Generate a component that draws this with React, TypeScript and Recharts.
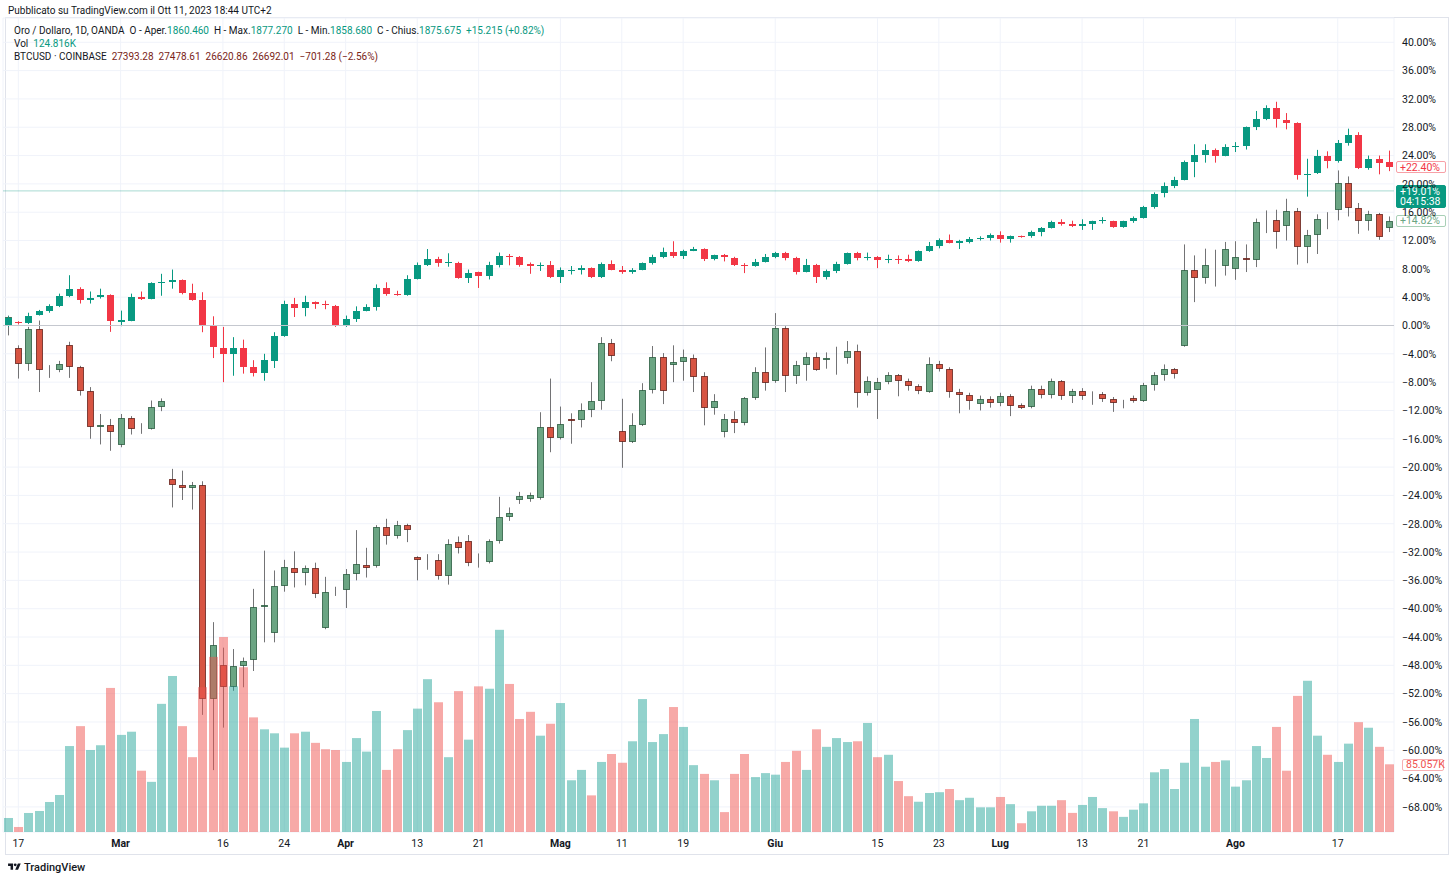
import React from 'react';
import { ComposedChart, Bar, XAxis, YAxis, CartesianGrid, ReferenceLine } from 'recharts';

const FONT = 'Roboto, "Liberation Sans", Arial, sans-serif';

// ---- Time axis (trading-day index -> label) ----
const tickIdx = [1, 11, 21, 27, 33, 40, 46, 54, 60, 66, 75, 85, 91, 97, 105, 111, 120, 130];
const tickLabels = ['17', 'Mar', '16', '24', 'Apr', '13', '21', 'Mag', '11', '19', 'Giu', '15', '23', 'Lug', '13', '21', 'Ago', '17'];
const monthLabels = ['Mar', 'Apr', 'Mag', 'Giu', 'Lug', 'Ago'];

// ---- Percent scale ticks ----
const pctTicks = [-68, -64, -60, -56, -52, -48, -44, -40, -36, -32, -28, -24, -20, -16, -12, -8, -4, 0, 4, 8, 12, 16, 20, 24, 28, 32, 36, 40];

// ---- Oro / Dollaro (percent change) ----
const goldOpen = [
  0.1, 0.45, 0.3, 1.5, 2.1, 2.7, 4.2, 5.1, 3.6, 4.0,
  4.3, 0.5, 0.7, 4.0, 3.8, 6.0, 6.1, 6.45, 4.6, 3.6,
  -0.1, -3.15, -4.05, -3.15, -5.9, -6.75, -5.0, -1.55, 3.1, 2.5,
  3.3, 3.1, 2.8, -0.1, 0.85, 2.1, 2.6, 5.3, 4.5, 4.3,
  6.6, 8.6, 9.4, 8.8, 8.85, 6.7, 7.5, 7.0, 8.6, 9.85,
  9.65, 8.7, 8.4, 8.6, 6.8, 7.85, 7.9, 8.1, 6.8, 8.7,
  7.9, 7.55, 7.9, 8.8, 9.65, 10.4, 9.8, 10.55, 10.8, 9.4,
  9.9, 9.55, 8.55, 8.35, 9.0, 9.65, 10.3, 9.5, 7.55, 8.6,
  6.8, 7.65, 8.7, 10.2, 9.5, 9.65, 9.35, 9.45, 9.4, 9.1,
  10.5, 11.2, 12.1, 11.65, 11.8, 12.25, 12.4, 12.85, 12.25, 12.6,
  12.6, 13.15, 13.75, 14.65, 14.4, 14.0, 14.3, 14.75, 14.75, 13.9,
  14.7, 15.15, 16.7, 18.7, 19.65, 20.6, 23.1, 24.1, 24.85, 24.0,
  25.2, 25.3, 28.0, 29.2, 30.75, 29.0, 28.6, 21.25, 21.55, 23.9,
  23.3, 25.8, 26.95, 22.3, 23.45, 23.1,
];
const goldHigh = [
  1.3, 0.6, 1.8, 2.2, 3.0, 4.5, 7.1, 5.4, 4.8, 5.2,
  4.4, 2.1, 4.5, 4.8, 6.1, 7.3, 7.9, 6.5, 5.9, 4.7,
  1.3, -0.2, -1.65, -2.0, -4.9, -4.0, -0.95, 3.5, 3.9, 4.2,
  3.4, 3.5, 2.9, 1.4, 2.7, 3.0, 5.8, 6.1, 4.9, 7.1,
  8.9, 10.8, 9.7, 10.2, 9.0, 7.9, 7.6, 9.0, 10.3, 10.1,
  9.8, 8.9, 8.9, 9.1, 8.2, 8.4, 8.5, 8.2, 8.9, 9.2,
  8.4, 8.1, 8.9, 10.0, 11.0, 11.9, 10.7, 11.1, 10.9, 10.0,
  10.1, 9.7, 8.8, 9.4, 10.1, 10.4, 10.4, 9.7, 9.4, 8.7,
  7.9, 9.0, 10.3, 10.4, 10.3, 9.8, 10.0, 9.9, 10.0, 10.6,
  11.8, 12.3, 12.85, 12.1, 12.5, 12.6, 13.0, 13.3, 12.7, 12.7,
  13.4, 13.9, 14.8, 15.0, 14.8, 15.0, 14.8, 15.3, 14.8, 14.8,
  15.4, 16.9, 18.8, 20.2, 21.0, 23.3, 25.6, 25.6, 25.0, 25.6,
  25.9, 28.1, 30.3, 31.1, 31.6, 30.0, 28.7, 23.55, 24.8, 24.6,
  26.2, 27.8, 27.3, 24.0, 24.0, 24.7,
];
const goldLow = [
  -0.2, 0.15, 0.2, 1.4, 1.8, 2.6, 4.0, 3.1, 3.1, 3.8,
  -0.9, -0.1, 0.6, 3.6, 3.7, 4.2, 5.2, 4.4, 3.5, -0.95,
  -4.6, -8.0, -7.1, -6.8, -7.2, -7.8, -6.0, -1.6, 1.2, 1.3,
  2.35, 2.3, -0.2, -0.2, 0.5, 2.0, 2.1, 4.2, 4.2, 4.2,
  6.5, 8.4, 8.3, 8.3, 6.6, 6.0, 5.3, 6.5, 8.2, 8.5,
  8.3, 7.3, 7.7, 6.7, 6.0, 7.2, 7.2, 6.7, 6.7, 7.8,
  7.3, 7.3, 7.8, 8.6, 9.5, 9.55, 9.4, 10.5, 9.1, 9.2,
  9.05, 8.4, 7.4, 8.3, 8.9, 9.5, 9.2, 7.2, 7.5, 6.0,
  6.5, 7.4, 8.6, 9.2, 9.2, 8.1, 8.8, 8.7, 8.95, 9.0,
  10.4, 10.9, 11.6, 10.8, 11.6, 12.0, 12.0, 11.7, 11.7, 12.4,
  12.4, 12.6, 13.7, 14.1, 13.9, 13.5, 13.5, 14.4, 13.8, 13.8,
  14.5, 15.1, 16.5, 18.1, 19.4, 20.5, 20.95, 23.0, 23.0, 23.9,
  24.5, 24.85, 27.6, 29.0, 27.95, 27.7, 20.6, 18.2, 21.4, 22.2,
  23.0, 25.4, 22.1, 22.0, 21.35, 21.8,
];
const goldClose = [
  1.0, 0.3, 1.4, 2.1, 2.7, 4.2, 5.1, 3.6, 3.9, 4.3,
  0.6, 0.8, 4.0, 3.7, 6.0, 6.2, 6.45, 4.6, 3.6, -0.1,
  -3.05, -4.05, -3.15, -5.9, -6.75, -4.9, -1.55, 3.1, 2.5, 3.3,
  3.1, 2.85, -0.1, 0.85, 2.1, 2.6, 5.3, 4.5, 4.3, 6.6,
  8.6, 9.4, 8.8, 8.95, 6.7, 7.45, 7.0, 8.6, 9.75, 9.7,
  8.6, 8.4, 8.6, 6.8, 7.8, 7.9, 8.1, 6.8, 8.7, 7.9,
  7.55, 7.9, 8.8, 9.65, 10.4, 9.8, 10.55, 10.8, 9.4, 9.9,
  9.65, 8.5, 8.35, 9.0, 9.65, 10.3, 9.5, 7.55, 8.6, 6.8,
  7.65, 8.7, 10.2, 9.55, 9.65, 9.3, 9.45, 9.3, 9.1, 10.5,
  11.2, 12.1, 11.7, 11.9, 12.25, 12.4, 12.85, 12.15, 12.6, 12.55,
  13.2, 13.75, 14.65, 14.3, 14.0, 14.3, 14.7, 14.85, 13.9, 14.7,
  15.2, 16.8, 18.6, 19.65, 20.6, 23.1, 24.1, 24.85, 24.0, 25.2,
  25.35, 28.0, 29.2, 30.75, 29.1, 28.65, 21.2, 21.45, 23.9, 23.3,
  25.8, 26.95, 22.3, 23.45, 23.0, 22.4,
];

// ---- BTCUSD (percent change) ----
const btcOpen = [
  0.0, -3.2, -5.4, -0.55, -6.45, -6.25, -2.75, -5.8, -9.2, -14.3,
  -14.05, -16.85, -13.05, -14.6, -14.6, -11.55, -21.65, -22.6, -22.95, -22.6,
  -52.75, -48.0, -51.0, -48.15, -47.25, -39.7, -43.45, -36.75, -34.2, -34.9,
  -34.2, -42.75, -37.6, -37.4, -35.1, -33.8, -33.95, -28.4, -29.8, -28.2,
  -32.75, -33.1, -33.1, -35.4, -30.6, -30.5, -33.4, -33.4, -30.4, -27.0,
  -24.7, -24.5, -24.3, -14.3, -15.9, -13.2, -13.3, -11.9, -10.7, -2.45,
  -14.95, -16.5, -14.0, -9.1, -4.4, -5.65, -5.1, -4.55, -7.2, -11.6,
  -15.1, -13.2, -13.8, -10.2, -6.5, -7.9, -0.4, -7.15, -5.65, -4.5,
  -4.85, -4.5, -4.6, -3.55, -9.55, -9.05, -8.0, -7.05, -7.8, -8.6,
  -9.4, -5.4, -6.1, -9.4, -9.8, -11.15, -10.35, -10.9, -9.9, -11.3,
  -11.55, -8.95, -9.8, -7.9, -9.9, -9.2, -9.65, -9.65, -10.35, -10.9,
  -10.2, -10.7, -8.4, -6.95, -6.2, -2.95, 7.8, 6.7, 8.45, 8.4,
  8.0, 9.55, 9.3, 14.75, 14.95, 14.05, 16.15, 11.15, 12.85, 15.15,
  16.35, 20.1, 16.6, 14.75, 15.8, 13.8,
];
const btcHigh = [
  1.4, -2.8, -0.2, 0.7, -5.6, -5.0, -2.3, -5.7, -8.7, -12.5,
  -13.2, -12.5, -12.8, -13.8, -10.6, -10.3, -20.25, -20.5, -22.1, -22.0,
  -41.9, -45.5, -45.7, -46.9, -37.2, -31.8, -34.6, -33.1, -31.9, -33.9,
  -33.5, -35.5, -36.9, -34.4, -28.9, -31.4, -28.2, -27.3, -27.6, -28.0,
  -32.6, -32.3, -32.3, -30.2, -29.8, -29.6, -32.2, -30.2, -24.2, -25.7,
  -23.5, -23.6, -12.25, -7.5, -11.45, -12.4, -11.0, -8.0, -1.65, -1.9,
  -10.35, -12.4, -8.15, -2.9, -3.9, -2.8, -3.4, -4.1, -6.6, -9.7,
  -12.5, -12.1, -10.1, -5.9, -3.1, 1.75, -0.1, -5.0, -3.8, -3.8,
  -3.8, -3.0, -2.2, -2.7, -7.2, -7.4, -6.6, -6.85, -7.5, -8.3,
  -4.5, -5.0, -5.9, -8.95, -9.5, -9.9, -10.0, -9.5, -9.7, -11.0,
  -8.5, -8.5, -7.5, -7.7, -8.95, -8.85, -9.3, -9.4, -10.1, -10.5,
  -9.9, -8.1, -6.6, -5.5, -6.0, 11.45, 9.9, 10.85, 10.7, 11.8,
  11.9, 11.45, 15.1, 16.25, 16.35, 17.9, 16.6, 13.5, 15.7, 16.0,
  21.9, 21.05, 17.3, 16.2, 15.9, 15.4,
];
const btcLow = [
  -1.4, -7.5, -6.4, -9.4, -7.4, -6.6, -7.4, -9.9, -16.0, -16.8,
  -17.7, -17.2, -15.4, -15.3, -14.7, -12.1, -25.7, -24.65, -26.0, -55.0,
  -62.8, -56.8, -51.6, -51.1, -48.8, -44.75, -44.75, -37.6, -37.0, -36.7,
  -38.5, -42.9, -38.2, -39.9, -36.0, -35.6, -34.2, -30.95, -30.1, -30.6,
  -36.0, -34.5, -35.9, -36.6, -32.2, -34.0, -34.2, -33.6, -30.8, -27.6,
  -25.2, -24.9, -24.6, -17.9, -16.1, -16.7, -14.4, -12.95, -11.9, -5.05,
  -20.1, -16.6, -14.2, -9.6, -11.1, -8.0, -7.8, -9.4, -14.1, -12.6,
  -15.8, -15.2, -14.1, -10.5, -9.2, -8.1, -9.4, -8.25, -7.8, -6.4,
  -6.1, -6.95, -5.4, -11.6, -9.9, -13.2, -8.3, -10.0, -9.2, -9.7,
  -9.5, -6.5, -10.2, -12.4, -11.9, -12.0, -11.6, -11.4, -12.8, -11.8,
  -11.7, -10.3, -10.3, -10.5, -10.95, -10.5, -11.2, -10.8, -12.2, -11.7,
  -10.9, -10.8, -9.2, -7.8, -7.5, -3.0, 3.3, 5.9, 5.5, 7.05,
  6.45, 7.55, 8.25, 13.05, 10.85, 12.0, 8.6, 8.8, 10.1, 13.6,
  14.85, 15.4, 12.95, 13.4, 12.1, 13.2,
];
const btcClose = [
  1.2, -5.4, -0.55, -6.25, -6.25, -5.4, -5.8, -9.2, -14.3, -14.05,
  -15.1, -13.05, -14.6, -14.55, -11.55, -10.7, -22.6, -22.95, -22.6, -52.75,
  -45.1, -51.0, -48.1, -47.35, -39.7, -39.5, -36.8, -34.1, -34.9, -34.2,
  -37.9, -37.6, -37.45, -35.1, -33.7, -34.25, -28.4, -29.8, -28.2, -28.95,
  -33.1, -33.0, -35.4, -30.8, -31.4, -33.6, -33.2, -30.4, -27.0, -26.5,
  -24.1, -24.0, -14.3, -15.9, -13.9, -13.45, -11.9, -10.7, -2.45, -4.35,
  -16.5, -14.0, -9.1, -4.4, -9.2, -5.1, -4.5, -7.3, -11.6, -10.6,
  -13.2, -13.8, -10.2, -6.5, -8.15, -0.4, -7.15, -5.65, -4.5, -6.25,
  -4.6, -4.45, -3.55, -9.55, -7.8, -8.0, -7.05, -7.8, -8.6, -9.3,
  -5.4, -6.1, -9.4, -9.8, -10.7, -10.45, -10.9, -9.9, -11.4, -11.6,
  -8.95, -9.8, -7.9, -9.9, -9.3, -9.9, -9.8, -10.35, -11.0, -10.75,
  -10.7, -8.35, -6.95, -6.2, -6.8, 7.8, 6.7, 8.5, 8.5, 10.75,
  9.65, 9.3, 14.6, 14.9, 13.25, 16.15, 11.15, 12.85, 15.1, 15.0,
  20.1, 16.6, 14.75, 15.8, 12.5, 14.82,
];

// ---- Volume (thousands) ----
const volumeK = [
  17.6, 6.3, 23.9, 26.4, 37.7, 46.5, 108, 133, 103, 109,
  181, 122, 126, 77, 63, 161, 196, 133, 94, 182,
  220, 245, 183, 207, 144, 129, 124, 106, 124, 126,
  112, 104, 103, 88, 118, 101, 152, 78, 104, 128,
  155, 192, 163, 94, 177, 116, 183, 180, 254, 186,
  142, 151, 121, 136, 162, 65, 78, 46, 88, 98,
  87, 114, 167, 113, 123, 157, 132, 84, 73, 65,
  25, 73, 98, 69, 74, 72, 88, 102, 78, 129,
  107, 118, 113, 114, 137, 94, 97, 64, 45, 38,
  49, 50, 54, 40, 43, 31, 31, 44, 35, 11,
  26, 33, 33, 40, 24, 34, 44, 30, 26, 19,
  28, 36, 75, 79, 54, 87, 142, 82, 88, 90,
  57, 65, 108, 93, 132, 77, 171, 190, 121, 97,
  88, 111, 138, 131, 107, 85.057,
];

const data = goldOpen.map((_, i) => ({
  i,
  gO: goldOpen[i], gH: goldHigh[i], gL: goldLow[i], gC: goldClose[i],
  bO: btcOpen[i], bH: btcHigh[i], bL: btcLow[i], bC: btcClose[i],
  gRange: [goldLow[i], goldHigh[i]],
  bRange: [btcLow[i], btcHigh[i]],
  vol: volumeK[i],
}));

const GOLD_UP = '#089981';
const GOLD_DN = '#F23645';

function candleShape(prefix: 'g' | 'b') {
  return (props: any) => {
    const { x, y, width, height, payload } = props;
    if (x == null || y == null || !payload) return <g />;
    const O = payload[prefix + 'O'], H = payload[prefix + 'H'], L = payload[prefix + 'L'], C = payload[prefix + 'C'];
    const top = Math.min(y, y + height);
    const span = Math.abs(height);
    const k = span / (H - L);
    const py = (v: number) => top + (H - v) * k;
    const cx = Math.round(x + width / 2);
    const up = C >= O;
    const yT = Math.round(py(Math.max(O, C)));
    const yB = Math.round(py(Math.min(O, C)));
    if (prefix === 'g') {
      const col = up ? GOLD_UP : GOLD_DN;
      return (
        <g>
          <line x1={cx + 0.5} x2={cx + 0.5} y1={py(H)} y2={py(L)} stroke={col} strokeWidth={1} />
          <rect x={cx - 3} y={yT} width={7} height={Math.max(1, yB - yT)} fill={col} />
        </g>
      );
    }
    const fill = up ? '#6BA583' : '#D75442';
    const border = up ? '#225437' : '#5B1A13';
    const h = Math.max(0, yB - yT - 1);
    return (
      <g>
        <line x1={cx + 0.5} x2={cx + 0.5} y1={py(H)} y2={py(L)} stroke="#737375" strokeWidth={1} />
        <rect x={cx - 2.5} y={yT + 0.5} width={6} height={h} fill={fill} stroke={border} strokeWidth={1} strokeOpacity={0.75} />
      </g>
    );
  };
}

const volumeShape = (props: any) => {
  const { x, y, width, height, payload } = props;
  if (x == null || !payload) return <g />;
  const up = payload.gC >= payload.gO;
  const x0 = Math.round(x) + 1;
  const x1 = Math.round(x + width);
  return <rect x={x0} y={y} width={Math.max(1, x1 - x0)} height={Math.max(0, height)} fill={up ? 'rgba(38,166,154,0.5)' : 'rgba(239,83,80,0.5)'} />;
};

const XTick = (props: any) => {
  const { x, payload } = props;
  const pos = tickIdx.indexOf(payload.value);
  const label = pos >= 0 ? tickLabels[pos] : '';
  const bold = monthLabels.includes(label);
  return (
    <text x={x} y={847} textAnchor="middle" fontSize={10.5} fontWeight={bold ? 700 : 400} fill="#131722" fontFamily={FONT}>
      {label}
    </text>
  );
};

const fmtPct = (v: number) => (v < 0 ? '\u2212' + Math.abs(v).toFixed(2) + '%' : v.toFixed(2) + '%');

const YTick = (props: any) => {
  const { y, payload } = props;
  return (
    <text x={1402} y={y + 3.8} textAnchor="start" fontSize={10.5} fill="#131722" fontFamily={FONT}>
      {fmtPct(payload.value)}
    </text>
  );
};

const Tag = (props: any) => {
  const { viewBox, text, sub, fg, bg, bd, dx, w } = props;
  if (!viewBox) return null;
  const x0 = Math.round(viewBox.x + viewBox.width + dx);
  const yc = viewBox.y;
  const h = sub ? 22 : 11;
  const top = Math.round(yc - 5.5);
  return (
    <g>
      <rect x={x0 + 0.5} y={top + 0.5} width={w} height={h} fill={bg} stroke={bd} strokeWidth={1} rx={1.5} />
      <text x={x0 + 4} y={yc + 3.8} fontSize={10.5} fill={fg} fontFamily={FONT}>{text}</text>
      {sub ? (
        <text x={x0 + 4} y={yc + 14.6} fontSize={10.5} fill={fg} fontFamily={FONT}>{sub}</text>
      ) : null}
    </g>
  );
};

const teal = { color: '#089981' };
const btcCol = { color: '#7A2518' };
const gap = { display: 'inline-block', width: 5 };

export default function App() {
  return (
    <div style={{ position: 'absolute', left: 0, top: 0, width: 1456, height: 880, background: '#ffffff', fontFamily: FONT, color: '#131722', overflow: 'hidden' }}>
      <div style={{ position: 'absolute', left: 8, top: 4, fontSize: 10, lineHeight: '14px', whiteSpace: 'nowrap' }}>
        Pubblicato su TradingView.com il Ott 11, 2023 18:44 UTC+2
      </div>
      <div style={{ position: 'absolute', left: 5, top: 17, width: 1442, height: 836, border: '1px solid #E0E3EB' }} />
      <div style={{ position: 'absolute', left: 0, top: 0 }}>
        <ComposedChart width={1456} height={880} data={data} margin={{ top: 18, right: 4, bottom: 26, left: 3 }} barCategoryGap={0} barGap={0}>
          <CartesianGrid xAxisId="vol" yAxisId="pct" stroke="#F0F3FA" strokeWidth={1} />
          <XAxis xAxisId="vol" dataKey="i" type="category" ticks={tickIdx} interval={0} tick={<XTick />} axisLine={false} tickLine={false} height={22} />
          <XAxis xAxisId="gold" dataKey="i" type="category" hide />
          <XAxis xAxisId="btc" dataKey="i" type="category" hide />
          <YAxis yAxisId="pct" orientation="right" type="number" domain={[-71.54, 43.43]} ticks={pctTicks} interval={0} allowDataOverflow tick={<YTick />} axisLine={false} tickLine={false} width={58} />
          <YAxis yAxisId="vol" type="number" domain={[0, 1022.7]} allowDataOverflow hide />
          <ReferenceLine xAxisId="vol" yAxisId="pct" y={0} stroke="#C5C8CF" strokeWidth={1} />
          <Bar xAxisId="btc" yAxisId="pct" dataKey="bRange" shape={candleShape('b')} isAnimationActive={false} />
          <Bar xAxisId="gold" yAxisId="pct" dataKey="gRange" shape={candleShape('g')} isAnimationActive={false} />
          <Bar xAxisId="vol" yAxisId="vol" dataKey="vol" shape={volumeShape} isAnimationActive={false} />
          <ReferenceLine xAxisId="vol" yAxisId="pct" y={19.01} stroke="#089981" strokeOpacity={0.35} strokeWidth={1}
            label={<Tag text="+19.01%" sub="04:15:38" fg="#ffffff" bg="#089981" bd="#089981" dx={2} w={49} />} />
          <ReferenceLine xAxisId="vol" yAxisId="pct" y={22.4} stroke="none"
            label={<Tag text="+22.40%" fg="#F23645" bg="#ffffff" bd="#F7A0A7" dx={2} w={49} />} />
          <ReferenceLine xAxisId="vol" yAxisId="pct" y={14.82} stroke="none"
            label={<Tag text="+14.82%" fg="#6BA583" bg="#ffffff" bd="#A9D0B7" dx={2} w={49} />} />
          <ReferenceLine xAxisId="vol" yAxisId="vol" y={85.057} stroke="none"
            label={<Tag text="85.057K" fg="#EF5350" bg="#ffffff" bd="#F7B0B2" dx={8} w={41} />} />
        </ComposedChart>
      </div>
      <div style={{ position: 'absolute', left: 14, top: 24, fontSize: 10, lineHeight: '14px', whiteSpace: 'nowrap' }}>
        Oro / Dollaro, 1D, OANDA<span style={gap} />O - Aper.<span style={teal}>1860.460</span><span style={gap} />H - Max.<span style={teal}>1877.270</span><span style={gap} />L - Min.<span style={teal}>1858.680</span><span style={gap} />C - Chius.<span style={teal}>1875.675</span><span style={gap} /><span style={teal}>+15.215 (+0.82%)</span>
      </div>
      <div style={{ position: 'absolute', left: 14, top: 37, fontSize: 10, lineHeight: '14px', whiteSpace: 'nowrap' }}>
        Vol<span style={gap} /><span style={teal}>124.816K</span>
      </div>
      <div style={{ position: 'absolute', left: 14, top: 50, fontSize: 10, lineHeight: '14px', whiteSpace: 'nowrap' }}>
        BTCUSD · COINBASE<span style={gap} /><span style={btcCol}>27393.28</span><span style={gap} /><span style={btcCol}>27478.61</span><span style={gap} /><span style={btcCol}>26620.86</span><span style={gap} /><span style={btcCol}>26692.01</span><span style={gap} /><span style={btcCol}>{'\u2212'}701.28 ({'\u2212'}2.56%)</span>
      </div>
      <div style={{ position: 'absolute', left: 8, top: 860, height: 14, display: 'flex', alignItems: 'center', whiteSpace: 'nowrap' }}>
        <svg width="13" height="10" viewBox="0 0 36 28" style={{ marginRight: 3 }}>
          <path d="M14 22H7V11H0V4h14v18zM28 22h-8l7.5-18h8L28 22z" fill="#131722" />
          <circle cx="20" cy="8" r="4" fill="#131722" />
        </svg>
        <span style={{ fontSize: 11, fontWeight: 500 }}>TradingView</span>
      </div>
    </div>
  );
}
